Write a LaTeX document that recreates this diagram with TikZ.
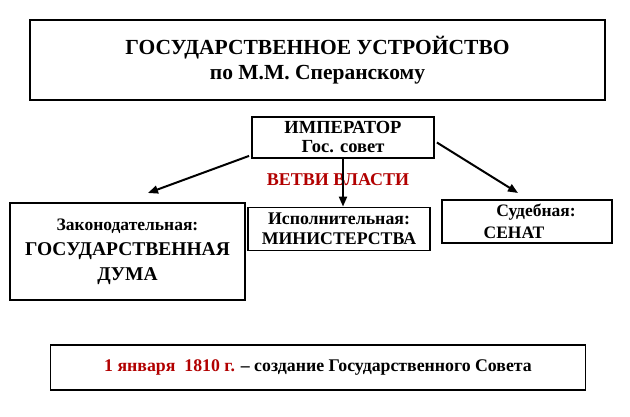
\documentclass[tikz,border=0pt]{standalone}
\usepackage{fontspec}
\setmainfont{Liberation Serif}
\usetikzlibrary{arrows.meta}
\begin{document}
\begin{tikzpicture}[x=1pt,y=-1pt,
  box/.style={draw,line width=1.8pt,inner sep=0pt,font=\bfseries,align=center},
  arr/.style={line width=2pt,-{Triangle[length=10pt,width=8pt]}}]
\useasboundingbox[fill=white] (0,0) rectangle (630,417);
\node[box,minimum width=575,minimum height=80,font=\bfseries\fontsize{21.5}{25}\selectfont] (title) at (317.5,60) {ГОСУДАРСТВЕННОЕ УСТРОЙСТВО\\по М.М. Сперанскому};
\node[box,minimum width=182,minimum height=41,font=\bfseries\fontsize{18.5}{19}\selectfont] (emp) at (343,137.5) {ИМПЕРАТОР\\Гос. совет};
\node[font=\bfseries\fontsize{18}{19}\selectfont,text=red!70!black] (vv) at (338,180) {ВЕТВИ ВЛАСТИ};
\node[box,minimum width=235,minimum height=97,font=\bfseries\fontsize{19.5}{25}\selectfont] (leg) at (127.5,251.5) {{\fontsize{17.5}{25}\selectfont Законодательная:}\\ГОСУДАРСТВЕННАЯ\\ДУМА};
\node[box,minimum width=182,minimum height=43,font=\bfseries\fontsize{17.8}{20}\selectfont] (exe) at (339,229) {Исполнительная:\\МИНИСТЕРСТВА};
\node[box,minimum width=170,minimum height=43,font=\bfseries\fontsize{17.5}{22}\selectfont] (jud) at (527,221.5) {\hspace*{18pt}Судебная:\\СЕНАТ\hspace*{26pt}};
\node[box,minimum width=535,minimum height=45,font=\bfseries\fontsize{17.8}{18}\selectfont] (bot) at (318,367.5) {\textcolor{red!70!black}{1 января\ \ 1810 г.} -- создание Государственного Совета};
\draw[arr] (emp.south west) ++(-2,-3) -- (148,193);
\draw[arr] (343,158) -- (exe.north -| 343,0);
\draw[arr] (emp.east) ++(2,5) -- (518,193);
\end{tikzpicture}
\end{document}
